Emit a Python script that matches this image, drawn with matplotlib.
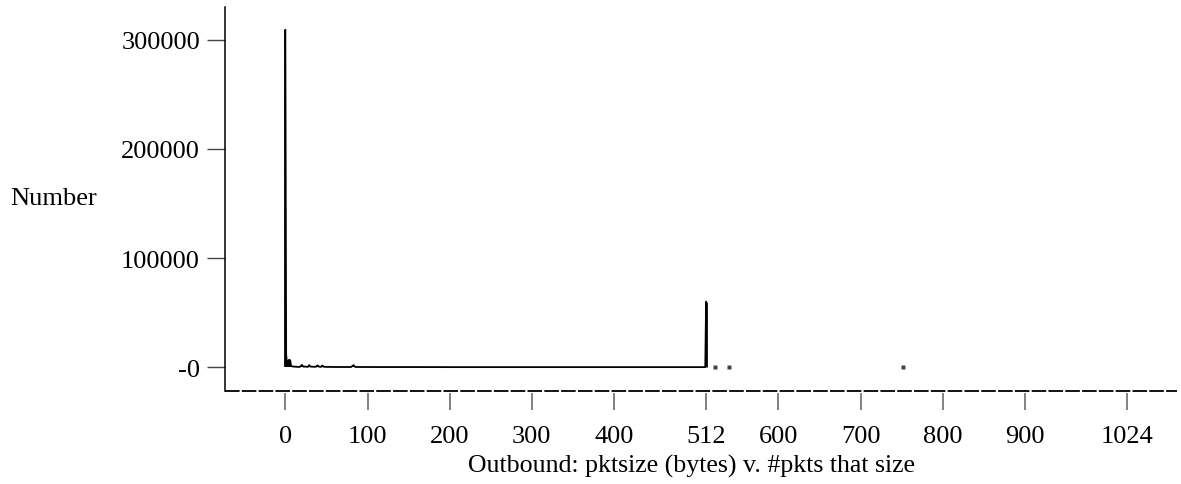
import matplotlib
matplotlib.use("Agg")
import matplotlib.pyplot as plt

# packet size (bytes) -> number of outbound packets of that size
sizes = [0, 1, 2, 3, 4, 5, 6, 7, 8, 10, 12, 14, 16, 18, 20, 21, 22, 24, 26, 28, 29,
         30, 32, 35, 38, 39, 41, 44, 45, 47, 50, 55, 60, 70, 80, 82, 83, 84, 86,
         90, 120, 160, 200, 250, 300, 350, 400, 450, 500, 508, 510, 511, 512]
counts = [309000, 12000, 3000, 1500, 6500, 7000, 6000, 1200, 900, 700, 600, 500,
          400, 500, 2200, 1500, 600, 700, 500, 600, 2000, 900, 600, 500, 700, 1800,
          600, 500, 1700, 500, 400, 400, 300, 300, 300, 1500, 2000, 800, 300,
          300, 250, 250, 200, 200, 200, 200, 200, 200, 200, 200, 200, 300, 60000]

# a few isolated sizes above 512
stray_sizes = [523, 540, 752]
stray_counts = [300, 300, 300]

xticks = [0, 100, 200, 300, 400, 512, 600, 700, 800, 900, 1024]
yticks = [0, 100000, 200000, 300000]
ytick_labels = ["-0", "100000", "200000", "300000"]

plt.rcParams["font.family"] = "Liberation Serif"
plt.rcParams["lines.scale_dashes"] = False

W, H = 1181, 485
fs = 19
fig = plt.figure(figsize=(W / 100, H / 100), dpi=100)
ax = fig.add_axes([225 / W, (H - 394) / H, (1177 - 225) / W, (394 - 8) / H])

ymin, ymax = -23500, 330000
ax.set_xlim(-73.4, 1085)
ax.set_ylim(ymin, ymax)

ax.vlines(sizes, 0, counts, color="black", lw=1.3)
ax.vlines(sizes[-1:], 0, counts[-1:], color="black", lw=2.0)
ax.plot(sizes, counts, color="black", lw=1.3)
ax.plot(stray_sizes, stray_counts, ls="none", marker="s", ms=2.2,
        color="#444444", mec="none")

for s in ["top", "right", "bottom"]:
    ax.spines[s].set_visible(False)
ax.spines["left"].set_bounds(-21400, ymax)
ax.spines["left"].set_linewidth(1.1)
ax.axhline(-21400, color="black", lw=1.3, ls=(0, (10.5, 1.6)), clip_on=False)

ax.set_xticks(xticks)
ax.set_xticklabels([str(v) for v in xticks])
ax.set_yticks(yticks)
ax.set_yticklabels(ytick_labels)
ax.tick_params(axis="x", direction="out", length=12.2, width=1.3,
               color="#777777", pad=11, labelsize=fs)
ax.tick_params(axis="y", direction="out", length=13, width=1.0,
               color="#444444", pad=5, labelsize=fs)

fig.text(10 / W, 1 - 199 / H, "Number", fontsize=fs, ha="left", va="center")
fig.text(692 / W, 1 - 466 / H, "Outbound: pktsize (bytes) v. #pkts that size",
         fontsize=18.6, ha="center", va="center")

fig.savefig("out.png", dpi=100)
